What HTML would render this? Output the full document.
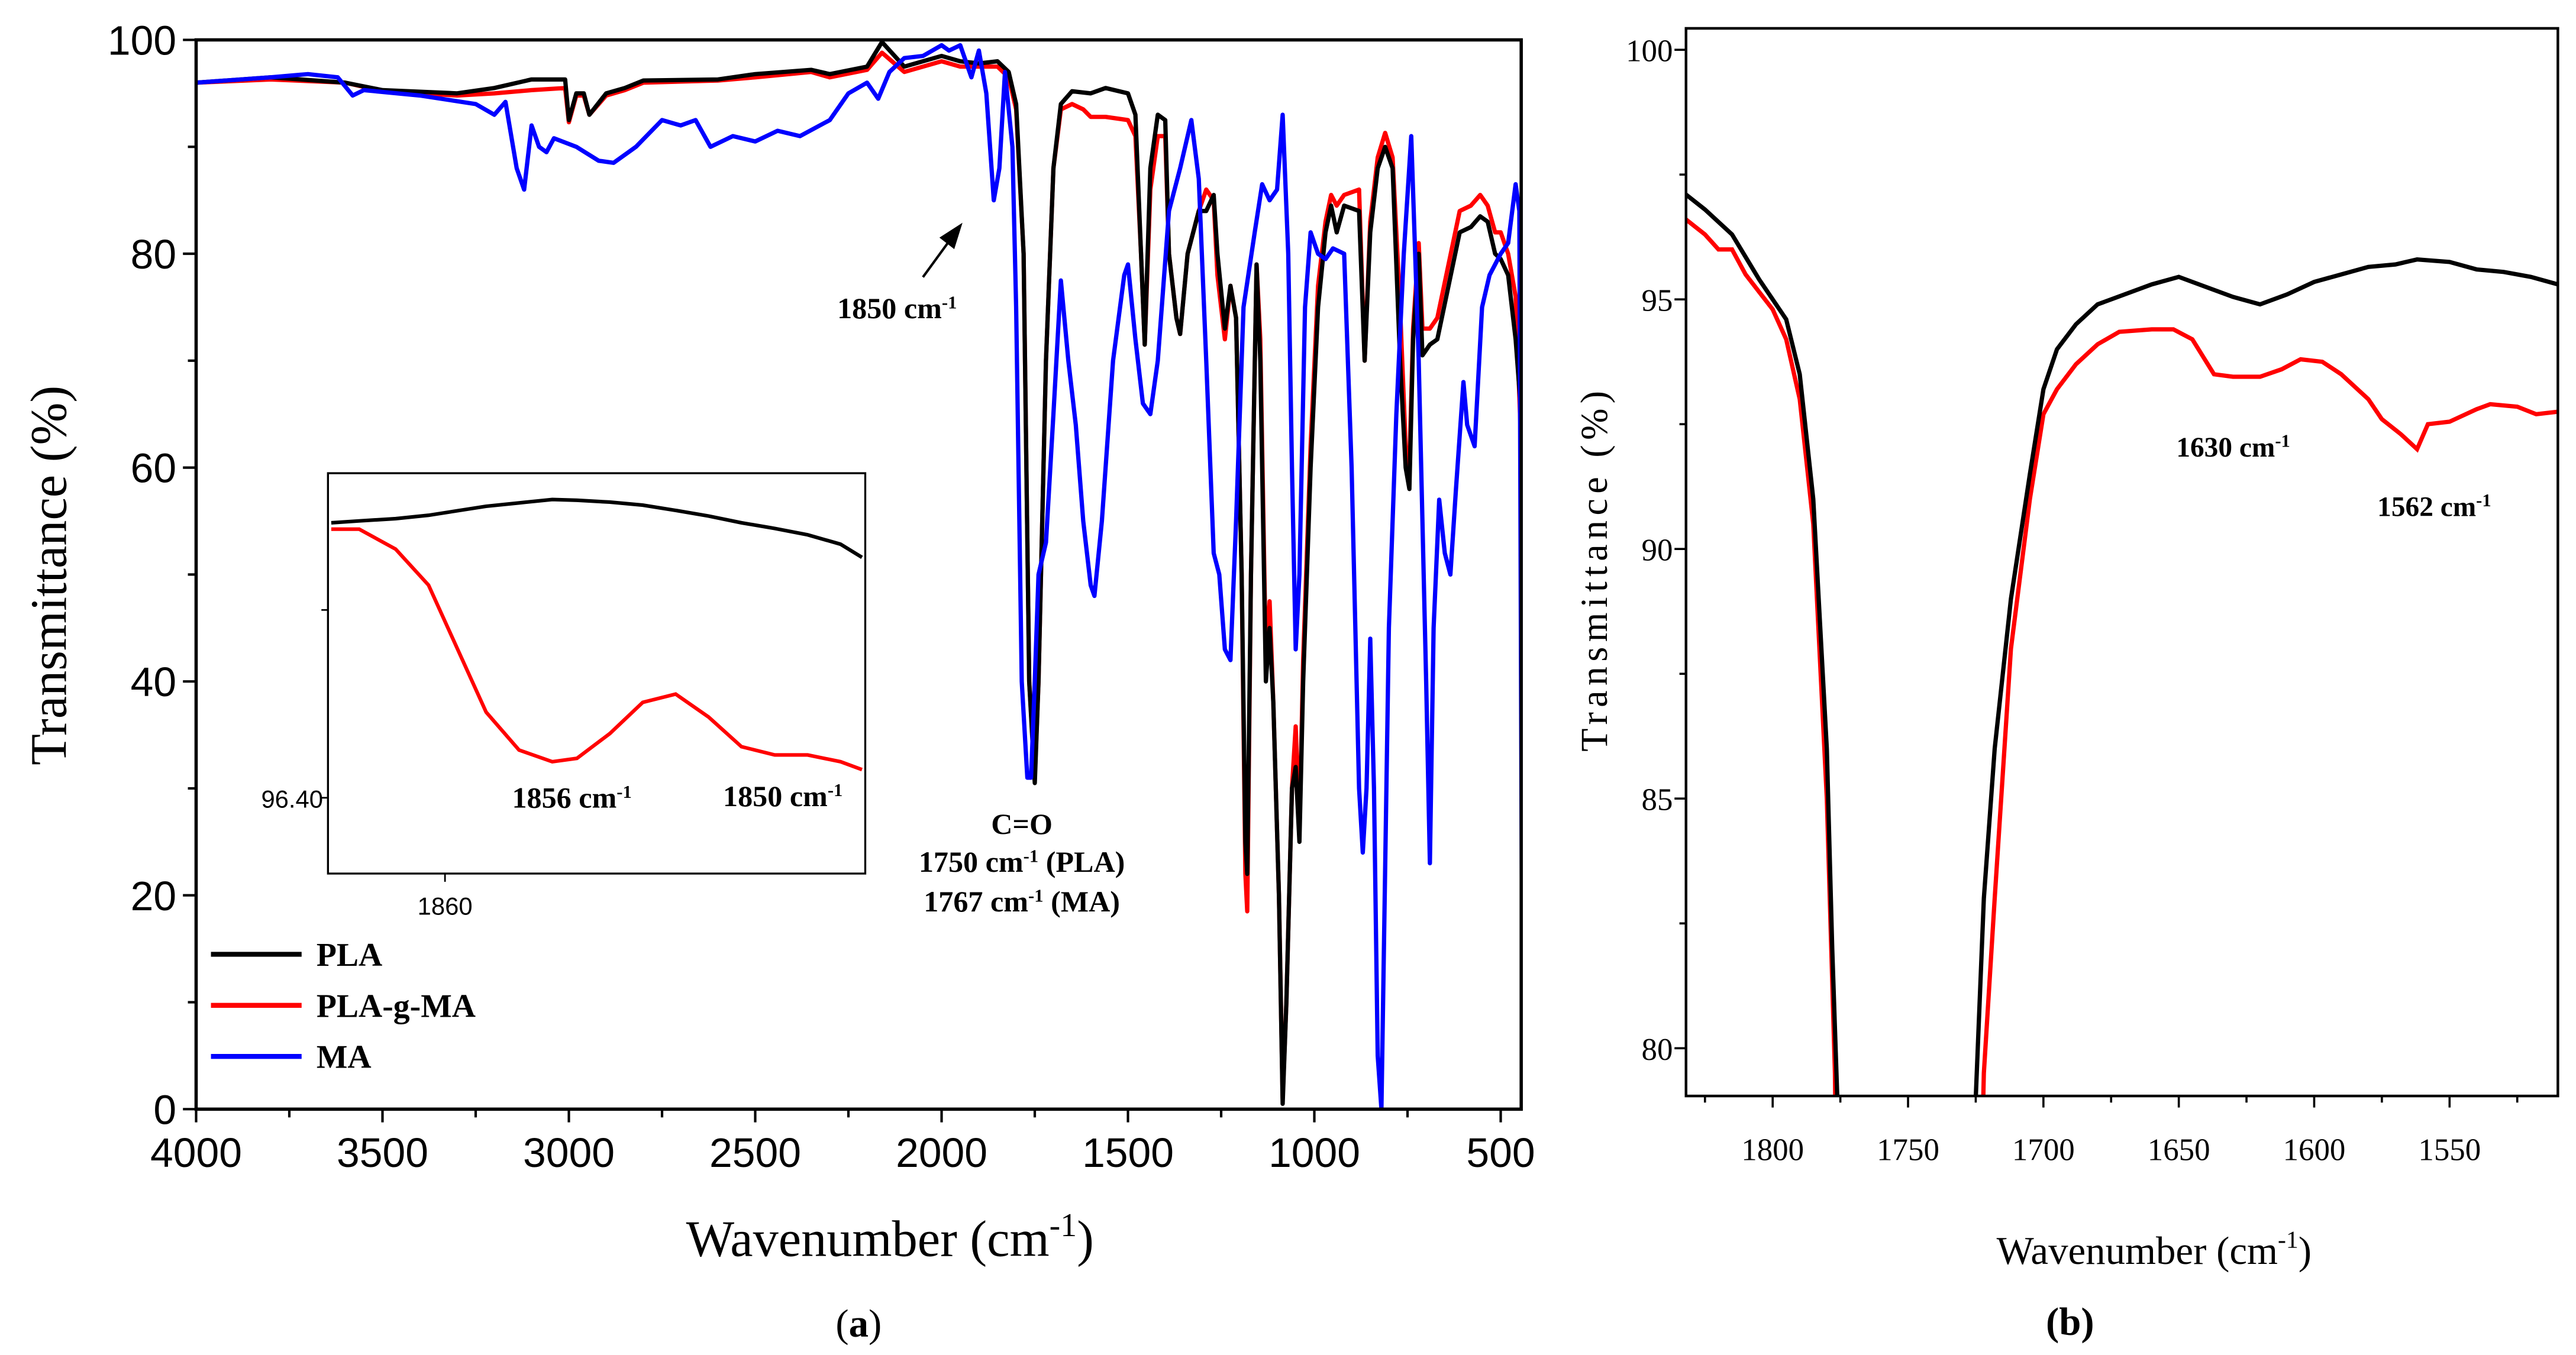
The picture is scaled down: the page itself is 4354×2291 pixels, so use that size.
<!DOCTYPE html>
<html><head><meta charset="utf-8"><style>
html,body{margin:0;padding:0;background:#fff;width:4354px;height:2291px;overflow:hidden;}
svg{display:block;}
</style></head><body>
<svg id="fig" xmlns="http://www.w3.org/2000/svg" width="4354" height="2291" viewBox="0 0 1563 822">
<defs>
<clipPath id="clipA"><rect x="119" y="24" width="804" height="649"/></clipPath>
<clipPath id="clipB"><rect x="1023" y="17" width="529" height="648"/></clipPath>
<clipPath id="clipI"><rect x="199" y="287" width="326" height="243"/></clipPath>
</defs>
<g id="panelA"></g>
<g id="panelB"></g>
</svg>
<script>
// ---------- Panel (a) data ----------
const plaWn=[4000,3800,3600,3500,3300,3200,3100,3010,3000,2980,2960,2945,2900,2850,2800,2600,2500,2350,2300,2200,2160,2100,2000,1950,1900,1850,1820,1800,1780,1765,1750,1740,1720,1700,1680,1650,1600,1560,1500,1480,1465,1455,1440,1420,1400,1390,1370,1360,1340,1310,1290,1270,1260,1240,1225,1210,1195,1185,1180,1170,1155,1145,1130,1120,1110,1095,1085,1075,1060,1050,1040,1030,1010,990,970,955,940,920,880,865,850,830,810,790,770,755,745,735,720,710,690,670,640,610,580,555,535,515,500,480,460,445,440];
const plaT=[96,96.5,96,95.3,95,95.5,96.3,96.3,92.5,95,95,93,95,95.5,96.2,96.3,96.8,97.2,96.8,97.5,99.8,97.5,98.5,98,97.8,98,97,94,80,40,30.5,40,70,88,94,95.2,95,95.5,95,93,80,71.5,88,93,92.5,80,74,72.5,80,84,84,85.5,80,73,77,74,50,25,22,50,79,70,40,45,38,20,0.5,10,30,32,25,40,60,75,82,84.5,82,84.5,84,70,82,88,90,88,70,60,58,72,80,70.5,71.5,72,77,82,82.5,83.5,83,80,79.5,78,72,65,33];
const pgmWn=[4000,3800,3600,3500,3300,3200,3100,3010,3000,2980,2960,2945,2900,2850,2800,2600,2500,2350,2300,2200,2160,2100,2000,1950,1900,1850,1820,1800,1780,1765,1750,1740,1720,1700,1680,1650,1620,1600,1560,1500,1480,1465,1455,1440,1420,1400,1390,1370,1360,1340,1310,1290,1270,1260,1240,1225,1210,1195,1185,1180,1170,1155,1145,1130,1120,1110,1095,1085,1075,1060,1050,1040,1030,1010,990,970,955,940,920,880,865,850,830,810,790,770,755,745,735,720,710,690,670,640,610,580,555,535,515,500,480,460,445,440];
const pgmT=[96,96.3,96,95.2,94.8,95,95.3,95.5,92.3,94.8,94.8,93,94.8,95.3,96,96.2,96.5,97,96.5,97.2,98.8,97,98,97.5,97.5,97.5,96.5,93.5,80,40,31,40,70,88,93.5,94,93.5,92.8,92.8,92.5,91,80,71.5,86,91,91,80,74,72.5,80,84,86,85,78,72,77,74,50,22,18.5,50,79,72,42,47.5,38,20,1,10,30,35.8,26,42,62,77,83,85.5,84.5,85.5,86,70,83,89,91.3,89,75,62,60,73,81,73,73,74,79,84,84.5,85.5,84.5,82,82,80,76,62,45];
const maWn=[4000,3800,3700,3620,3580,3550,3400,3250,3200,3170,3140,3120,3100,3080,3060,3040,2980,2920,2880,2820,2750,2700,2660,2620,2560,2500,2440,2380,2300,2250,2200,2170,2140,2100,2050,2000,1980,1950,1920,1900,1880,1860,1845,1830,1810,1800,1785,1770,1760,1750,1740,1720,1700,1680,1660,1640,1620,1600,1590,1570,1540,1510,1500,1480,1460,1440,1420,1390,1360,1330,1310,1290,1270,1255,1240,1225,1210,1190,1160,1140,1120,1100,1085,1070,1060,1050,1040,1025,1010,990,970,950,920,900,880,870,860,850,840,830,820,800,780,760,740,720,700,690,680,665,650,635,620,600,590,570,550,530,500,480,460,450,442];
const maT=[96,96.5,96.8,96.5,94.8,95.3,94.8,94,93,94.2,88,86,92,90,89.5,90.8,90,88.7,88.5,90,92.5,92,92.5,90,91,90.5,91.5,91,92.5,95,96,94.5,97,98.3,98.5,99.5,99,99.5,96.5,99,95,85,88,97,90,75,40,31,31,40,50,53,65,77.5,70,64,55,49,48,55,70,78,79,72,66,65,70,84,88,92.5,87,70,52,50,43,42,55,75,82,86.5,85,86,93,80,60,43,50,75,82,80,79.5,80.5,80,60,30,24,30,44,30,5,0,45,65,80,91,70,40,23,45,57,52,50,58,68,64,62,75,78,80,81,86.5,84,7];
const xTicksA=[4000,3500,3000,2500,2000,1500,1000,500];
const yTicksA=[0,20,40,60,80,100];
// inset data
const insetWn=[1863.18,1862.40,1861.38,1860.46,1858.85,1857.93,1857.00,1856.31,1855.39,1854.47,1853.55,1852.63,1851.71,1850.78,1849.86,1848.94,1848.34];
const insetPLA=[96.4732,96.4737,96.4743,96.4752,96.4776,96.4785,96.4794,96.4792,96.4787,96.4779,96.4765,96.4750,96.4732,96.4717,96.4700,96.4675,96.4640];
const insetPGM=[96.4715,96.4715,96.4662,96.4566,96.4228,96.4127,96.4096,96.4105,96.4171,96.4254,96.4276,96.4215,96.4136,96.4114,96.4114,96.4096,96.4075];

// ---------- Panel (b) data ----------
const bBlackWn=[1832,1825,1815,1805,1795,1790,1785,1780,1778,1776,1774,1727,1725,1722,1718,1712,1705,1700,1695,1688,1680,1670,1660,1650,1640,1630,1620,1610,1600,1590,1580,1570,1562,1550,1540,1530,1520,1510];
const bBlackT=[97.1,96.8,96.3,95.4,94.6,93.5,91,86,82,78.8,70,70,79,83,86,89,91.5,93.2,94,94.5,94.9,95.1,95.3,95.45,95.25,95.05,94.9,95.1,95.35,95.5,95.65,95.7,95.8,95.75,95.6,95.55,95.45,95.3];
const bRedWn=[1832,1825,1820,1815,1810,1800,1795,1790,1785,1780,1777,1775,1726,1722,1718,1712,1705,1700,1695,1688,1680,1672,1660,1652,1645,1637,1630,1620,1612,1605,1597,1590,1580,1575,1568,1562,1558,1550,1540,1535,1525,1518,1510];
const bRedT=[96.6,96.3,96,96,95.5,94.8,94.2,93,90.5,85,79.5,70,70,79.5,83,88,91,92.7,93.2,93.7,94.1,94.35,94.4,94.4,94.2,93.5,93.45,93.45,93.6,93.8,93.75,93.5,93,92.6,92.3,92.0,92.5,92.55,92.8,92.9,92.85,92.7,92.75];
const xTicksB=[1800,1750,1700,1650,1600,1550];
const yTicksB=[80,85,90,95,100];

const NS="http://www.w3.org/2000/svg";
function mk(parent,tag,attrs,text){const e=document.createElementNS(NS,tag);for(const k in attrs)e.setAttribute(k,attrs[k]);if(text!==undefined)e.textContent=text;parent.appendChild(e);return e;}

const AL=119,AR=923,AT=24,AB=673,AX0=4000,AX1=445;
const ax=w=>AL+(AX0-w)/(AX0-AX1)*(AR-AL);
const ay=t=>AB-t/100*(AB-AT);
const IL=199,IR=525,IT=287,IB=530;
const ix=w=>270+(1860-w)*21.7;
const iy=t=>484-(t-96.40)*2280;
const BL=1023,BR=1552,BT=17,BB=665,BX0=1832,BX1=1510;
const bx=w=>BL+(BX0-w)/(BX0-BX1)*(BR-BL);
const by=t=>30+(100-t)*30.3;

function pathD(ws,ts,fx,fy){return ws.map((w,i)=>(i?'L':'M')+fx(w).toFixed(2)+','+fy(ts[i]).toFixed(2)).join(' ');}

const A=document.getElementById('panelA');
const B=document.getElementById('panelB');
const serif='"Liberation Serif", serif', sans='"Liberation Sans", sans-serif';

const gA=mk(A,'g',{'clip-path':'url(#clipA)'});


let p=mk(gA,'path',{d:pathD(pgmWn,pgmT,ax,ay),fill:'none',stroke:'#f00',"stroke-width":2.6,"stroke-linejoin":'round'});


p=mk(gA,'path',{d:pathD(plaWn,plaT,ax,ay),fill:'none',stroke:'#000',"stroke-width":2.6,"stroke-linejoin":'round'});


p=mk(gA,'path',{d:pathD(maWn,maT,ax,ay),fill:'none',stroke:'#00f',"stroke-width":2.6,"stroke-linejoin":'round'});


p=mk(A,'rect',{x:AL,y:AT,width:AR-AL,height:AB-AT,fill:'none',stroke:'#000','stroke-width':2});


xTicksA.forEach(v=>{
  mk(A,'line',{x1:ax(v),x2:ax(v),y1:AB,y2:AB+8,stroke:'#000','stroke-width':1.5});
  const t=mk(A,'text',{x:ax(v),y:AB+35,'font-family':sans,'font-size':25,'text-anchor':'middle'},String(v));
  
  
});
for(let v=3750;v>AX1;v-=500)mk(A,'line',{x1:ax(v),x2:ax(v),y1:AB,y2:AB+5,stroke:'#000','stroke-width':1.5});
yTicksA.forEach(v=>{
  mk(A,'line',{x1:AL-8,x2:AL,y1:ay(v),y2:ay(v),stroke:'#000','stroke-width':1.5});
  const t=mk(A,'text',{x:AL-12,y:ay(v)+9,'font-family':sans,'font-size':25,'text-anchor':'end'},String(v));
  
  
});
for(let v=10;v<100;v+=20)mk(A,'line',{x1:AL-5,x2:AL,y1:ay(v),y2:ay(v),stroke:'#000','stroke-width':1.5});
let t=mk(A,'text',{x:0,y:0,transform:'translate(40,349) rotate(-90)','font-family':serif,'font-size':31,'text-anchor':'middle'},'Transmittance (%)');


t=mk(A,'text',{x:540,y:762,'font-family':serif,'font-size':31,'text-anchor':'middle'});
t.innerHTML='Wavenumber (cm<tspan dy="-12" font-size="20">-1</tspan><tspan dy="12">)</tspan>';


t=mk(A,'text',{x:521,y:811,'font-family':serif,'font-size':24,'text-anchor':'middle'});
t.innerHTML='(<tspan font-weight="bold">a</tspan>)';


const bold={'font-family':serif,'font-size':18,'font-weight':'bold'};
function ann(x,y,base,name,anchor){const e=mk(A,'text',Object.assign({x:x,y:y,'text-anchor':anchor||'start'},bold));e.innerHTML=base;return e;}
ann(508,193,'1850 cm<tspan dy="-6" font-size="11">-1</tspan>','annotation-1850');
p=mk(A,'line',{x1:560,y1:168,x2:576,y2:146,stroke:'#000','stroke-width':1.5});


p=mk(A,'polygon',{points:'584,135 570,144 579,151',fill:'#000'});


ann(620,506,'C=O','annotation-co','middle');
ann(620,529,'1750 cm<tspan dy="-6" font-size="11">-1</tspan><tspan dy="6"> (PLA)</tspan>','annotation-1750','middle');
ann(620,553,'1767 cm<tspan dy="-6" font-size="11">-1</tspan><tspan dy="6"> (MA)</tspan>','annotation-1767','middle');
const legend=[['PLA','#000'],['PLA-g-MA','#f00'],['MA','#00f']];
legend.forEach((l,i)=>{
  const y=579+i*31;
  const g=mk(A,'g',{});
  
  
  mk(g,'line',{x1:128,x2:183,y1:y,y2:y,stroke:l[1],'stroke-width':3});
  mk(g,'text',{x:192,y:y+7,'font-family':serif,'font-size':20,'font-weight':'bold'},l[0]);
});
const gI=mk(A,'g',{});


mk(gI,'rect',{x:IL,y:IT,width:IR-IL,height:IB-IT,fill:'#fff',stroke:'#000','stroke-width':1.2});
const gIc=mk(gI,'g',{'clip-path':'url(#clipI)'});
p=mk(gIc,'path',{d:pathD(insetWn,insetPLA,ix,iy),fill:'none',stroke:'#000','stroke-width':2.2});


p=mk(gIc,'path',{d:pathD(insetWn,insetPGM,ix,iy),fill:'none',stroke:'#f00','stroke-width':2.2});


mk(gI,'line',{x1:ix(1860),x2:ix(1860),y1:IB,y2:IB+5,stroke:'#000','stroke-width':1});
t=mk(gI,'text',{x:ix(1860),y:IB+25,'font-family':sans,'font-size':15,'text-anchor':'middle'},'1860');


mk(gI,'line',{x1:IL-4,x2:IL,y1:iy(96.40),y2:iy(96.40),stroke:'#000','stroke-width':1});
mk(gI,'line',{x1:IL-4,x2:IL,y1:iy(96.45),y2:iy(96.45),stroke:'#000','stroke-width':1});
t=mk(gI,'text',{x:IL-3,y:iy(96.40)+6,'font-family':sans,'font-size':15,'text-anchor':'end'},'96.40');


ann(347,490,'1856 cm<tspan dy="-6" font-size="11">-1</tspan>','inset-annotation-1856','middle');
ann(475,489,'1850 cm<tspan dy="-6" font-size="11">-1</tspan>','inset-annotation-1850','middle');

const gB=mk(B,'g',{'clip-path':'url(#clipB)'});


p=mk(gB,'path',{d:pathD(bRedWn,bRedT,bx,by),fill:'none',stroke:'#f00','stroke-width':2.6});


p=mk(gB,'path',{d:pathD(bBlackWn,bBlackT,bx,by),fill:'none',stroke:'#000','stroke-width':2.6});


p=mk(B,'rect',{x:BL,y:BT,width:BR-BL,height:BB-BT,fill:'none',stroke:'#000','stroke-width':1.6});


xTicksB.forEach(v=>{
  mk(B,'line',{x1:bx(v),x2:bx(v),y1:BB,y2:BB+7,stroke:'#000','stroke-width':1.3});
  const e=mk(B,'text',{x:bx(v),y:BB+39,'font-family':serif,'font-size':19,'text-anchor':'middle'},String(v));
  
  
});
for(let v=1825;v>BX1;v-=50)mk(B,'line',{x1:bx(v),x2:bx(v),y1:BB,y2:BB+4,stroke:'#000','stroke-width':1.3});
yTicksB.forEach(v=>{
  mk(B,'line',{x1:BL-7,x2:BL,y1:by(v),y2:by(v),stroke:'#000','stroke-width':1.3});
  const e=mk(B,'text',{x:BL-8,y:by(v)+7,'font-family':serif,'font-size':19,'text-anchor':'end'},String(v));
  
  
});
for(let v=82.5;v<100;v+=5)mk(B,'line',{x1:BL-4,x2:BL,y1:by(v),y2:by(v),stroke:'#000','stroke-width':1.3});
t=mk(B,'text',{x:0,y:0,transform:'translate(975,345) rotate(-90)','font-family':serif,'font-size':23,'text-anchor':'middle','letter-spacing':'3'},'Transmittance (%)');


t=mk(B,'text',{x:1307,y:767,'font-family':serif,'font-size':24,'text-anchor':'middle'});
t.innerHTML='Wavenumber (cm<tspan dy="-10" font-size="15">-1</tspan><tspan dy="10">)</tspan>';


t=mk(B,'text',{x:1256,y:810,'font-family':serif,'font-size':24,'text-anchor':'middle','font-weight':'bold'},'(b)');


t=mk(B,'text',{x:1355,y:277,'font-family':serif,'font-size':17,'font-weight':'bold','text-anchor':'middle'});
t.innerHTML='1630 cm<tspan dy="-6" font-size="11">-1</tspan>';


t=mk(B,'text',{x:1477,y:313,'font-family':serif,'font-size':17,'font-weight':'bold','text-anchor':'middle'});
t.innerHTML='1562 cm<tspan dy="-6" font-size="11">-1</tspan>';


</script>
</body></html>
